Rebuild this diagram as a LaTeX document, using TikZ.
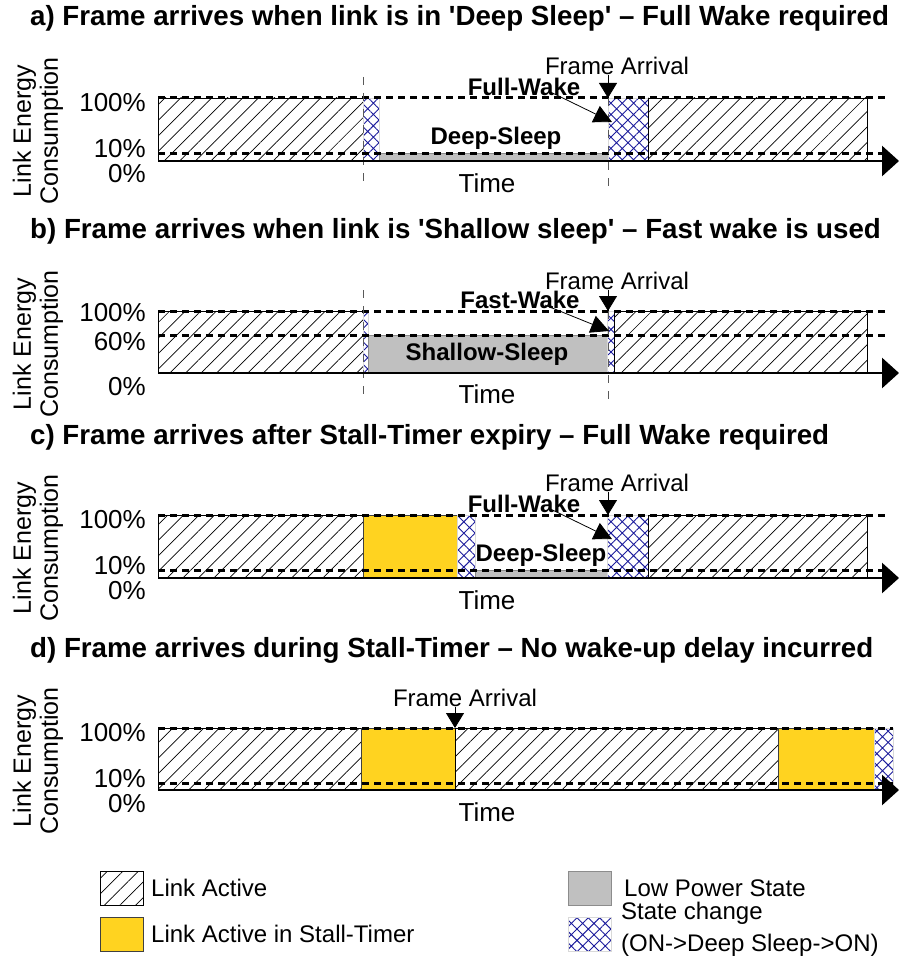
\documentclass[tikz,border=0pt]{standalone}
\usepackage{fontspec}
\setmainfont{Liberation Sans}
\usetikzlibrary{patterns.meta,arrows.meta}
\definecolor{stallyellow}{HTML}{FFD320}
\definecolor{lowgray}{HTML}{C0C0C0}
\definecolor{changeblue}{HTML}{1C1C9C}
\begin{document}
\begin{tikzpicture}[x=1pt, y=-1pt,
    title/.style={anchor=west, inner sep=0pt, font=\fontsize{27.7}{32}\selectfont\bfseries},
    ylab/.style={rotate=90, align=center, inner sep=0pt, font=\fontsize{25}{27}\selectfont},
    tick/.style={anchor=east, inner sep=0pt, font=\fontsize{26}{28}\selectfont},
    timelbl/.style={inner sep=0pt, font=\fontsize{26}{28}\selectfont},
    framelbl/.style={inner sep=0pt, font=\fontsize{24}{26}\selectfont},
    tag/.style={inner sep=0pt, font=\fontsize{24}{26}\selectfont\bfseries},
    legtext/.style={anchor=west, inner sep=0pt, align=left, font=\fontsize{24}{32}\selectfont},
    active/.style={draw=black, line width=0.8pt, pattern={Lines[angle=45,distance=11pt,line width=0.7pt]}},
    stall/.style={draw=black!75, line width=0.8pt, fill=stallyellow},
    lowpow/.style={draw=black!45, line width=0.8pt, fill=lowgray},
    change/.style={draw=black!15, line width=0.5pt, pattern={Hatch[angle=45,distance=8pt,line width=0.9pt]}, pattern color=changeblue},
    level/.style={line width=3pt, dash pattern=on 7pt off 5pt},
    marker/.style={draw=black!65, line width=1pt, dash pattern=on 8pt off 8pt},
    axis/.style={line width=2.8pt, -{Triangle[length=17pt,width=30pt]}},
    drop/.style={line width=0.8pt, -{Triangle[length=15pt,width=18pt]}},
    point/.style={line width=0.8pt, -{Triangle[length=18pt,width=18pt]}}]
\useasboundingbox (0,0) rectangle (899,963);

% a) Deep Sleep
\begin{scope}[shift={(0,0)}]
    \node[title] (titleA) at (30,18) {a) Frame arrives when link is in \textquotesingle Deep Sleep\textquotesingle{} – Full Wake required};
    \node[ylab] (ylabA) at (38,131) {Link Energy\\Consumption};
    \node[tick] (hiA) at (146,103) {100\%};
    \node[tick] (loA) at (146,149) {10\%};
    \node[tick] (zeroA) at (146,174) {0\%};
    \draw[active] (158,98) rectangle (363,161);
    \draw[change] (363,98) rectangle (379,161);
    \draw[lowpow] (379,153) rectangle (608,161);
    \draw[change] (608,98) rectangle (648,161);
    \draw[active] (648,98) rectangle (867,161);
    \draw[level] (158,98) -- (888,98);
    \draw[level] (158,153) -- (888,153);
    \draw[marker] (363,77) -- (363,187);
    \draw[marker] (608,98) -- (608,187);
    \coordinate (startA) at (158,161);
    \coordinate (endA) at (899,161);
    \draw[axis] (startA) -- (endA);
    \node[timelbl] (timeA) at (487,183) {Time};
    \node[tag] (sleepA) at (496,138) {Deep-Sleep};
    \node[tag] (wakeA) at (524,87) {Full-Wake};
    \node[framelbl] (frameA) at (617,66) {Frame Arrival};
    \coordinate (hitA) at (608,98);
    \coordinate (wakeHitA) at (612,122);
    \draw[drop] (frameA.south -| hitA) -- (hitA);
    \draw[point] ([xshift=-32pt,yshift=-4pt]wakeA.east) -- (wakeHitA);
\end{scope}

% b) Shallow sleep
\begin{scope}[shift={(0,213)}]
    \node[title] (titleB) at (30,18) {b) Frame arrives when link is \textquotesingle Shallow sleep\textquotesingle{} – Fast wake is used};
    \node[ylab] (ylabB) at (38,131) {Link Energy\\Consumption};
    \node[tick] (hiB) at (146,100) {100\%};
    \node[tick] (midB) at (146,129) {60\%};
    \node[tick] (zeroB) at (146,174) {0\%};
    \draw[active] (158,98) rectangle (363,160);
    \draw[change] (363,98) rectangle (368,160);
    \draw[lowpow] (368,122) rectangle (607,160);
    \draw[change] (607,98) rectangle (614,160);
    \draw[active] (614,98) rectangle (867,160);
    \draw[level] (158,98) -- (888,98);
    \draw[level] (158,122) -- (888,122);
    \draw[marker] (363,77) -- (363,187);
    \draw[marker] (608,98) -- (608,187);
    \coordinate (startB) at (158,160);
    \coordinate (endB) at (899,160);
    \draw[axis] (startB) -- (endB);
    \node[timelbl] (timeB) at (487,181) {Time};
    \node[tag] (sleepB) at (487,141) {Shallow-Sleep};
    \node[tag] (wakeB) at (520,87) {Fast-Wake};
    \node[framelbl] (frameB) at (617,68) {Frame Arrival};
    \coordinate (hitB) at (608,98);
    \coordinate (wakeHitB) at (609,118);
    \draw[drop] (frameB.south -| hitB) -- (hitB);
    \draw[point] ([xshift=-35pt,yshift=-5pt]wakeB.east) -- (wakeHitB);
\end{scope}

% c) Stall-Timer expiry
\begin{scope}[shift={(0,417)}]
    \node[title] (titleC) at (30,20) {c) Frame arrives after Stall-Timer expiry – Full Wake required};
    \node[ylab] (ylabC) at (38,131) {Link Energy\\Consumption};
    \node[tick] (hiC) at (146,103) {100\%};
    \node[tick] (loC) at (146,149) {10\%};
    \node[tick] (zeroC) at (146,174) {0\%};
    \draw[active] (158,98) rectangle (363,161);
    \draw[stall] (363,98) rectangle (457,161);
    \draw[change] (457,98) rectangle (475,161);
    \draw[lowpow] (475,153) rectangle (607,161);
    \draw[change] (607,98) rectangle (648,161);
    \draw[active] (648,98) rectangle (867,161);
    \draw[level] (158,98) -- (888,98);
    \draw[level] (158,153) -- (888,153);
    \coordinate (startC) at (158,161);
    \coordinate (endC) at (899,161);
    \draw[axis] (startC) -- (endC);
    \node[timelbl] (timeC) at (487,183) {Time};
    \node[tag] (sleepC) at (541,138) {Deep-Sleep};
    \node[tag] (wakeC) at (524,87) {Full-Wake};
    \node[framelbl] (frameC) at (617,66) {Frame Arrival};
    \coordinate (hitC) at (608,98);
    \coordinate (wakeHitC) at (612,122);
    \draw[drop] (frameC.south -| hitC) -- (hitC);
    \draw[point] ([xshift=-32pt,yshift=-4pt]wakeC.east) -- (wakeHitC);
\end{scope}

% d) during Stall-Timer
\begin{scope}[shift={(0,630)}]
    \node[title] (titleD) at (30,20) {d) Frame arrives during Stall-Timer – No wake-up delay incurred};
    \node[ylab] (ylabD) at (38,131) {Link Energy\\Consumption};
    \node[tick] (hiD) at (146,103) {100\%};
    \node[tick] (loD) at (146,149) {10\%};
    \node[tick] (zeroD) at (146,174) {0\%};
    \draw[active] (158,98) rectangle (361,160);
    \draw[stall] (361,98) rectangle (455,160);
    \draw[active] (455,98) rectangle (778,160);
    \draw[stall] (778,98) rectangle (874,160);
    \draw[change] (874,98) rectangle (893,160);
    \draw[level] (158,98) -- (893,98);
    \draw[level] (158,153) -- (893,153);
    \coordinate (startD) at (158,160);
    \coordinate (endD) at (899,160);
    \draw[axis] (startD) -- (endD);
    \node[timelbl] (timeD) at (487,182) {Time};
    \node[framelbl] (frameD) at (465,68) {Frame Arrival};
    \coordinate (hitD) at (455,98);
    \draw[drop] (frameD.south -| hitD) -- (hitD);
\end{scope}

% Legend
\draw[active] (100,871) rectangle (143,905);
\node[legtext] (legActive) at (151,888) {Link Active};
\draw[stall] (100,917) rectangle (143,951);
\node[legtext] (legStall) at (151,934) {Link Active in Stall-Timer};
\draw[lowpow] (568,871) rectangle (611,905);
\node[legtext] (legLow) at (624,888) {Low Power State};
\draw[change] (568,917) rectangle (611,951);
\node[legtext] (legChange) at (621,929) {State change\\(ON->Deep Sleep->ON)};
\end{tikzpicture}
\end{document}
